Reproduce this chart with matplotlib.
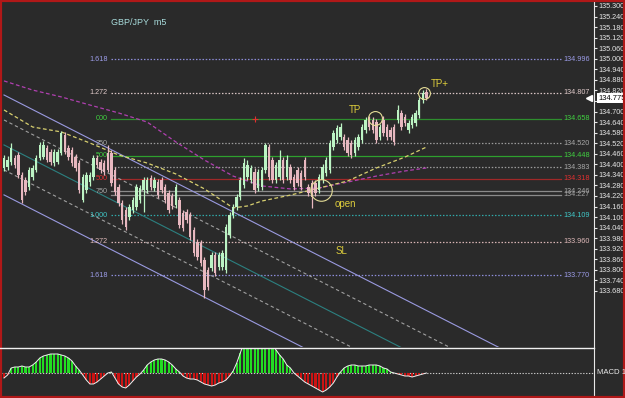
import numpy as np
import matplotlib
matplotlib.use('Agg')
import matplotlib.pyplot as plt
import matplotlib.transforms as mtransforms
from matplotlib.patches import Rectangle
from matplotlib.lines import Line2D

plt.rcParams['font.family'] = ['Liberation Sans', 'DejaVu Sans']

# GBP/JPY m5 candles
opens = [134.379, 134.385, 134.413, 134.436, 134.453, 134.339, 134.311, 134.271, 134.328, 134.368,
         134.436, 134.442, 134.493, 134.470, 134.407, 134.413, 134.464, 134.567, 134.493, 134.481,
         134.442, 134.407, 134.197, 134.254, 134.299, 134.328, 134.436, 134.413, 134.407, 134.464,
         134.464, 134.368, 134.271, 134.180, 134.140, 134.100, 134.140, 134.157, 134.197, 134.254,
         134.254, 134.322, 134.265, 134.299, 134.311, 134.271, 134.237, 134.220, 134.169, 134.197,
         134.123, 134.129, 134.112, 134.027, 133.958, 133.953, 133.856, 133.799, 133.810, 133.884,
         133.816, 133.816, 133.799, 133.998, 134.112, 134.157, 134.214, 134.282, 134.328, 134.311,
         134.356, 134.265, 134.271, 134.368, 134.498, 134.424, 134.311, 134.328, 134.424, 134.328,
         134.385, 134.328, 134.368, 134.351, 134.424, 134.271, 134.294, 134.294, 134.254, 134.311,
         134.351, 134.368, 134.498, 134.538, 134.555, 134.555, 134.538, 134.521, 134.464, 134.498,
         134.538, 134.595, 134.652, 134.652, 134.640, 134.555, 134.652, 134.612, 134.595, 134.612,
         134.652, 134.692, 134.669, 134.595, 134.623, 134.635, 134.680, 134.766, 134.811]
highs = [134.453, 134.447, 134.521, 134.453, 134.470, 134.356, 134.328, 134.385, 134.396, 134.453,
         134.527, 134.532, 134.510, 134.487, 134.487, 134.487, 134.589, 134.584, 134.510, 134.498,
         134.459, 134.424, 134.345, 134.356, 134.356, 134.453, 134.453, 134.430, 134.424, 134.510,
         134.481, 134.385, 134.288, 134.197, 134.157, 134.174, 134.214, 134.288, 134.282, 134.328,
         134.328, 134.339, 134.328, 134.316, 134.328, 134.288, 134.254, 134.237, 134.288, 134.214,
         134.140, 134.146, 134.129, 134.044, 133.975, 133.970, 133.873, 133.816, 133.902, 133.902,
         133.902, 133.913, 134.061, 134.129, 134.174, 134.231, 134.328, 134.436, 134.424, 134.396,
         134.379, 134.373, 134.385, 134.521, 134.515, 134.442, 134.413, 134.481, 134.442, 134.453,
         134.402, 134.345, 134.385, 134.368, 134.442, 134.288, 134.311, 134.311, 134.345, 134.402,
         134.442, 134.538, 134.595, 134.623, 134.635, 134.572, 134.555, 134.538, 134.555, 134.572,
         134.629, 134.669, 134.675, 134.669, 134.658, 134.629, 134.675, 134.629, 134.612, 134.629,
         134.737, 134.709, 134.686, 134.652, 134.686, 134.709, 134.782, 134.822, 134.828]
lows = [134.362, 134.368, 134.396, 134.379, 134.322, 134.180, 134.226, 134.254, 134.311, 134.356,
        134.424, 134.430, 134.413, 134.396, 134.390, 134.402, 134.453, 134.459, 134.424, 134.390,
        134.362, 134.237, 134.186, 134.237, 134.277, 134.311, 134.379, 134.351, 134.339, 134.356,
        134.277, 134.226, 134.163, 134.061, 134.027, 134.083, 134.123, 134.140, 134.180, 134.129,
        134.237, 134.254, 134.248, 134.208, 134.237, 134.180, 134.123, 134.146, 134.152, 134.038,
        134.021, 134.066, 133.970, 133.879, 133.856, 133.822, 133.640, 133.685, 133.793, 133.765,
        133.799, 133.799, 133.782, 133.981, 134.095, 134.140, 134.197, 134.265, 134.311, 134.294,
        134.237, 134.248, 134.254, 134.351, 134.311, 134.294, 134.294, 134.311, 134.294, 134.311,
        134.294, 134.254, 134.277, 134.254, 134.311, 134.220, 134.152, 134.220, 134.237, 134.294,
        134.334, 134.351, 134.481, 134.521, 134.538, 134.481, 134.447, 134.436, 134.447, 134.481,
        134.521, 134.578, 134.595, 134.578, 134.521, 134.538, 134.561, 134.538, 134.538, 134.510,
        134.635, 134.595, 134.618, 134.578, 134.606, 134.618, 134.663, 134.748, 134.766]
closes = [134.436, 134.424, 134.493, 134.396, 134.339, 134.197, 134.243, 134.368, 134.379, 134.436,
          134.510, 134.510, 134.424, 134.413, 134.470, 134.470, 134.578, 134.470, 134.442, 134.407,
          134.379, 134.254, 134.328, 134.339, 134.339, 134.436, 134.396, 134.368, 134.356, 134.368,
          134.294, 134.243, 134.180, 134.083, 134.044, 134.157, 134.197, 134.271, 134.265, 134.311,
          134.311, 134.271, 134.311, 134.226, 134.254, 134.197, 134.140, 134.163, 134.271, 134.055,
          134.038, 134.083, 133.987, 133.896, 133.873, 133.839, 133.685, 133.702, 133.884, 133.782,
          133.884, 133.896, 134.044, 134.112, 134.157, 134.214, 134.311, 134.407, 134.396, 134.379,
          134.254, 134.356, 134.368, 134.510, 134.328, 134.311, 134.396, 134.424, 134.311, 134.424,
          134.311, 134.271, 134.294, 134.271, 134.328, 134.237, 134.214, 134.237, 134.328, 134.385,
          134.424, 134.521, 134.578, 134.606, 134.612, 134.498, 134.464, 134.453, 134.538, 134.555,
          134.612, 134.652, 134.612, 134.595, 134.538, 134.612, 134.578, 134.555, 134.555, 134.527,
          134.709, 134.612, 134.635, 134.635, 134.669, 134.692, 134.766, 134.805, 134.777]

# moving averages, sampled every few bars
ma_idx = [0, 8, 16, 24, 32, 40, 48, 56, 64, 68, 72, 80, 88, 96, 104, 112, 118]
ma_fast = [134.709, 134.612, 134.584, 134.521, 134.453, 134.407, 134.345, 134.260, 134.152,
           134.163, 134.191, 134.225, 134.265, 134.305, 134.379, 134.441, 134.498]
ma_slow = [134.874, 134.822, 134.783, 134.737, 134.692, 134.640, 134.527, 134.424, 134.333,
           134.305, 134.277, 134.260, 134.265, 134.299, 134.333, 134.362, 134.379]

# regression channel
channel_idx = [0, 160]
channel_mid = [134.510, 132.849]
channel_offsets = [0.284, 0.142, 0.0, -0.142, -0.284]

# fibo / level lines
level_prices = [134.996, 134.807, 134.658, 134.520, 134.448, 134.383, 134.318, 134.246, 134.227,
                134.109, 133.960, 133.770]
level_names = ['1.618', '1.272', '000', '250', '500', '', '500', '750', '', '1.000', '1.272', '1.618']

macd_hist = [-5, -2, 5, 6, 6, 7, 6, 6, 8, 11,
             15, 17, 18, 19, 19, 19, 18, 17, 15, 12,
             7, 3, -2, -7, -11, -11, -9, -6, -3, 0,
             1, -5, -11, -14, -15, -12, -8, -4, -1, 3,
             8, 11, 13, 14, 14, 13, 11, 8, 4, 1,
             -3, -5, -6, -6, -7, -9, -11, -12, -13, -12,
             -10, -9, -7, -3, 2, 10, 20, 30, 30, 30,
             30, 30, 30, 30, 30, 28, 23, 18, 14, 8,
             5, 0, -3, -6, -9, -11, -13, -15, -17, -19,
             -17, -14, -10, -4, 1, 5, 7, 8, 8, 7,
             7, 7, 8, 8, 8, 7, 5, 4, 1, 0,
             -1, -2, -3, -3, -4, -3, -2, -1, 0]

last_price = 134.775
price_ticks = np.round(np.arange(133.68, 135.301, 0.06), 2)

BG = '#2a2a2a'
W, H = 625, 398


def px_box(x0, y0, x1, y1):
    return [x0 / W, 1 - y1 / H, (x1 - x0) / W, (y1 - y0) / H]


fig = plt.figure(figsize=(6.25, 3.98), dpi=100, facecolor=BG)
ax = fig.add_axes(px_box(2, 2, 594, 347), facecolor=BG)
ax2 = fig.add_axes(px_box(2, 348, 594, 396), facecolor=BG, sharex=ax)

step = 3.58
ax.set_xlim(-2 / step, 590 / step)
ax.set_ylim(133.3613, 135.3226)

for a in (ax, ax2):
    for s in a.spines.values():
        s.set_visible(False)
    a.spines['right'].set_visible(True)
    a.spines['right'].set_color('#e8e8e8')
    a.tick_params(axis='x', bottom=False, labelbottom=False)

ax.yaxis.tick_right()
ax.set_yticks(price_ticks)
ax.set_yticklabels([f'{v:.3f}' for v in price_ticks])
ax.tick_params(axis='y', colors='#e8e8e8', labelsize=5.2, length=2.5, width=0.8, pad=0.8)
ax2.set_yticks([])

trans = mtransforms.blended_transform_factory(ax.transAxes, ax.transData)

# level lines
lev_line_col = ['#8c8cd8', '#d8c4c4', '#2e8e2e', '#9a9a9a', '#2ea02e', '#9a9a9a', '#a02828',
                '#8a8a8a', '#8a8a8a', '#30a8a8', '#d8b4b4', '#8c8cd8']
lev_text_col = ['#9c9ce8', '#e0caca', '#40d040', '#a8a8a8', '#40d040', '#a8a8a8', '#e03030',
                '#a8a8a8', '#a0a0a0', '#40c8c8', '#e0baba', '#9c9ce8']
lev_solid = [False, False, True, False, True, False, True, True, True, False, False, False]
for p, name, lc, tc, solid in zip(level_prices, level_names, lev_line_col, lev_text_col, lev_solid):
    ls = '-' if solid else (0, (1.2, 1.4))
    ax.axhline(p, xmin=0.184, xmax=0.944, color=lc, lw=0.9, ls=ls, zorder=1)
    if name:
        ax.text(0.179, p, name, transform=trans, ha='right', va='center', fontsize=5.2, color=tc)
    ax.text(0.948, p, f'{p:.3f}', transform=trans, ha='left', va='center', fontsize=5.2, color=tc)

# channel
cx = np.array(channel_idx)
cm = np.array(channel_mid)
ch_styles = [('#9a9ae0', '-'), ('#a0a0a0', (0, (3, 2.5))), ('#2c8080', '-'),
             ('#a0a0a0', (0, (3, 2.5))), ('#9a9ae0', '-')]
for off, (col, ls) in zip(channel_offsets, ch_styles):
    ax.plot(cx, cm + off, color=col, ls=ls, lw=0.8, zorder=1.5)

# moving averages
ax.plot(ma_idx, ma_slow, color='#b040b0', ls=(0, (3, 2)), lw=0.9, zorder=2)
ax.plot(ma_idx, ma_fast, color='#d8d070', ls=(0, (3, 2)), lw=0.9, zorder=2)

# candles
o = np.array(opens)
c = np.array(closes)
idx = np.arange(len(c))
cols = np.where(c >= o, '#bcf4c4', '#e8b8c0')
ax.vlines(idx, lows, highs, colors=cols, lw=0.9, zorder=3)
ax.bar(idx, np.maximum(np.abs(c - o), 0.004), bottom=np.minimum(o, c), width=0.68,
       color=cols, lw=0, zorder=3)

# annotations
ax.text(0.184, 0.942, 'GBP/JPY  m5', transform=ax.transAxes, fontsize=6.5, color='#a8dcdc',
        va='center', ha='left')
ylw = '#dccc3c'
ax.text(98, 134.709, 'TP', color=ylw, fontsize=7, ha='center', va='center', zorder=4)
ax.text(121.8, 134.857, 'TP+', color=ylw, fontsize=7, ha='center', va='center', zorder=4)
ax.text(95.3, 134.174, 'open', color=ylw, fontsize=7, ha='center', va='center', zorder=4)
ax.text(94.4, 133.907, 'SL', color=ylw, fontsize=7, ha='center', va='center', zorder=4)
circ = dict(ls='none', marker='o', mfc='none', mec='#e4dc96', mew=0.8, zorder=4)
ax.plot(103.6, 134.663, ms=10, **circ)
ax.plot(117.3, 134.805, ms=8.5, **circ)
ax.plot(88.5, 134.254, ms=15.5, **circ)
ax.plot(70, 134.658, marker='+', color='#e03030', ms=4, mew=0.8, zorder=4)

# last price tag
ax.text(1.0075, last_price, f'{last_price:.3f}', transform=trans, ha='left', va='center',
        fontsize=5.4, color='black', clip_on=False, zorder=5,
        bbox=dict(boxstyle='square,pad=0.2', fc='white', ec='none'))
ax.plot([0.992], [last_price], marker='<', color='white', ms=4, transform=trans, clip_on=False)

# MACD panel
hist = np.array(macd_hist)
ax2.set_ylim(-23, 25)
ax2.bar(idx, hist, width=0.6, color=np.where(hist >= 0, '#22dd22', '#cc1414'), lw=0, zorder=2)
ax2.plot(idx, hist, color='#f0f0f0', lw=0.7, zorder=3)
ax2.axhline(0, color='#c8c8c8', ls=(0, (1.2, 1.4)), lw=0.8, zorder=1)
fig.text(597 / W, 1 - 373 / H, 'MACD 12', fontsize=5.6, color='#e8e8e8', va='center')

fig.lines.append(Line2D([0, 594 / W], [1 - 347.5 / H] * 2, color='#f0f0f0', lw=1,
                        transform=fig.transFigure))
fig.patches.append(Rectangle((0, 0), 1, 1, transform=fig.transFigure, fill=False,
                             ec='#b01818', lw=3))

fig.savefig('out.png', dpi=100, facecolor=BG)
